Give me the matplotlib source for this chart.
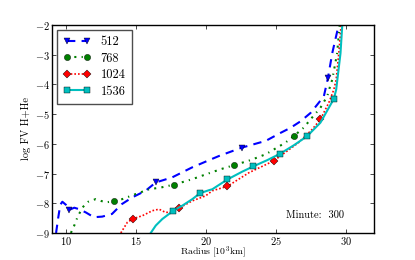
import matplotlib
matplotlib.use("Agg")
import matplotlib.pyplot as plt

plt.rcParams['mathtext.fontset'] = 'cm'
plt.rcParams['font.family'] = ['cmr10', 'DejaVu Serif']
plt.rcParams['axes.formatter.use_mathtext'] = True
plt.rcParams['axes.unicode_minus'] = False

labels = ['512', '768', '1024', '1536']

x512 = [9.3, 9.45, 9.6, 9.75, 10.0, 10.26, 10.6, 10.95, 11.43, 12.0, 12.6, 13.3, 14.0, 14.76,
        15.7, 16.43, 17.6, 19.0, 20.24, 20.95, 22.57, 24.3, 25.36, 26.07, 26.79, 27.5, 27.98,
        28.45, 28.74, 29.05, 29.48, 29.55]
y512 = [-9.0, -8.5, -8.05, -7.95, -8.05, -8.22, -8.15, -8.2, -8.31, -8.47, -8.45, -8.36, -8.03, -7.8,
        -7.58, -7.30, -7.13, -6.8, -6.55, -6.41, -6.13, -5.9, -5.63, -5.46, -5.24, -4.96, -4.68,
        -4.4, -3.79, -2.95, -2.06, -1.9]
m512 = [5, 15, 20, 28]

x768 = [10.36, 10.6, 10.83, 11.19, 11.6, 12.14, 12.5, 12.86, 13.47, 14.04, 15.0, 15.95, 16.8,
        17.76, 19.04, 20.24, 21.1, 22.02, 23.2, 24.3, 25.7, 26.3, 27.0, 27.6, 28.2, 28.69, 28.93,
        29.05, 29.4, 29.6]
y768 = [-9.0, -8.75, -8.47, -8.14, -7.95, -7.86, -7.92, -7.97, -7.93, -7.86, -7.69, -7.53, -7.47,
        -7.37, -7.19, -6.99, -6.85, -6.72, -6.55, -6.35, -5.96, -5.74, -5.46, -5.12, -4.79, -4.4, -4.01,
        -3.84, -2.95, -1.9]
m768 = [8, 13, 17, 21]

x1024 = [13.93, 14.4, 14.81, 15.47, 16.19, 16.66, 17.14, 17.6, 18.11, 19.04, 20.0, 20.47, 21.55,
         23.1, 24.88, 26.67, 27.6, 28.2, 28.8, 29.16, 29.33, 29.52, 29.7]
y1024 = [-9.0, -8.64, -8.52, -8.42, -8.25, -8.2, -8.31, -8.29, -8.16, -7.92, -7.75, -7.58, -7.43,
         -6.97, -6.57, -5.95, -5.52, -5.18, -4.62, -4.18, -3.84, -2.95, -1.9]
m1024 = [2, 8, 12, 14, 17]

x1536 = [16.07, 16.43, 16.9, 17.69, 18.33, 19.05, 19.6, 20.24, 20.47, 21.55, 22.6, 23.4, 24.4,
         25.33, 26.3, 27.26, 28.2, 29.16, 29.33, 29.64, 29.78]
y1536 = [-9.0, -8.75, -8.53, -8.25, -8.08, -7.86, -7.66, -7.56, -7.53, -7.2, -6.94, -6.76, -6.55,
         -6.33, -6.05, -5.74, -5.29, -4.49, -4.18, -2.95, -1.9]
m1536 = [3, 6, 9, 11, 13, 15, 17]

fig = plt.figure(figsize=(4.15, 2.6), dpi=100)
ax = fig.add_axes([0.125, 0.104, 0.775, 0.80])

ax.plot(x512, y512, color='b', ls='--', lw=1.5, marker='v', ms=4.5, markevery=m512,
        mec='k', mew=0.3, label=labels[0], dashes=(4, 3))
ax.plot(x768, y768, color='g', ls='-.', lw=1.5, marker='o', ms=4.5, markevery=m768,
        mec='k', mew=0.3, label=labels[1], dashes=(1, 2.5, 1, 2.5, 0.6, 2.5))
ax.plot(x1024, y1024, color='r', ls=':', lw=1.2, marker='D', ms=4, markevery=m1024,
        mec='k', mew=0.3, label=labels[2], dashes=(1, 1.2))
ax.plot(x1536, y1536, color='c', ls='-', lw=1.5, marker='s', ms=4.5, markevery=m1536,
        mec='k', mew=0.3, label=labels[3])

ax.set_xlim(9, 32)
ax.set_ylim(-9, -2)
ax.set_xticks([10, 15, 20, 25, 30])
ax.set_yticks([-9, -8, -7, -6, -5, -4, -3, -2])
ax.tick_params(direction='in', top=True, right=True, labelsize=7.5, length=3, width=0.5, pad=1.5)
for s in ax.spines.values():
    s.set_linewidth(1.0)

fig.text(0.5125, 0.029, r'$\mathrm{Radius\ [10^3km]}$', fontsize=7, ha='center', va='center')
ax.set_ylabel(r'log FV H+He', fontsize=7.5, labelpad=3)

ax.text(27.8, -8.39, 'Minute:  300', fontsize=7.5, ha='center', va='center')

leg = ax.legend(loc='upper left', fontsize=9, numpoints=2, fancybox=False, framealpha=1,
                edgecolor='0.3', handlelength=2.2, borderpad=0.5, labelspacing=0.35,
                handletextpad=0.8, borderaxespad=0.4)
leg.get_frame().set_linewidth(1.0)

fig.savefig('out.png', dpi=100)
